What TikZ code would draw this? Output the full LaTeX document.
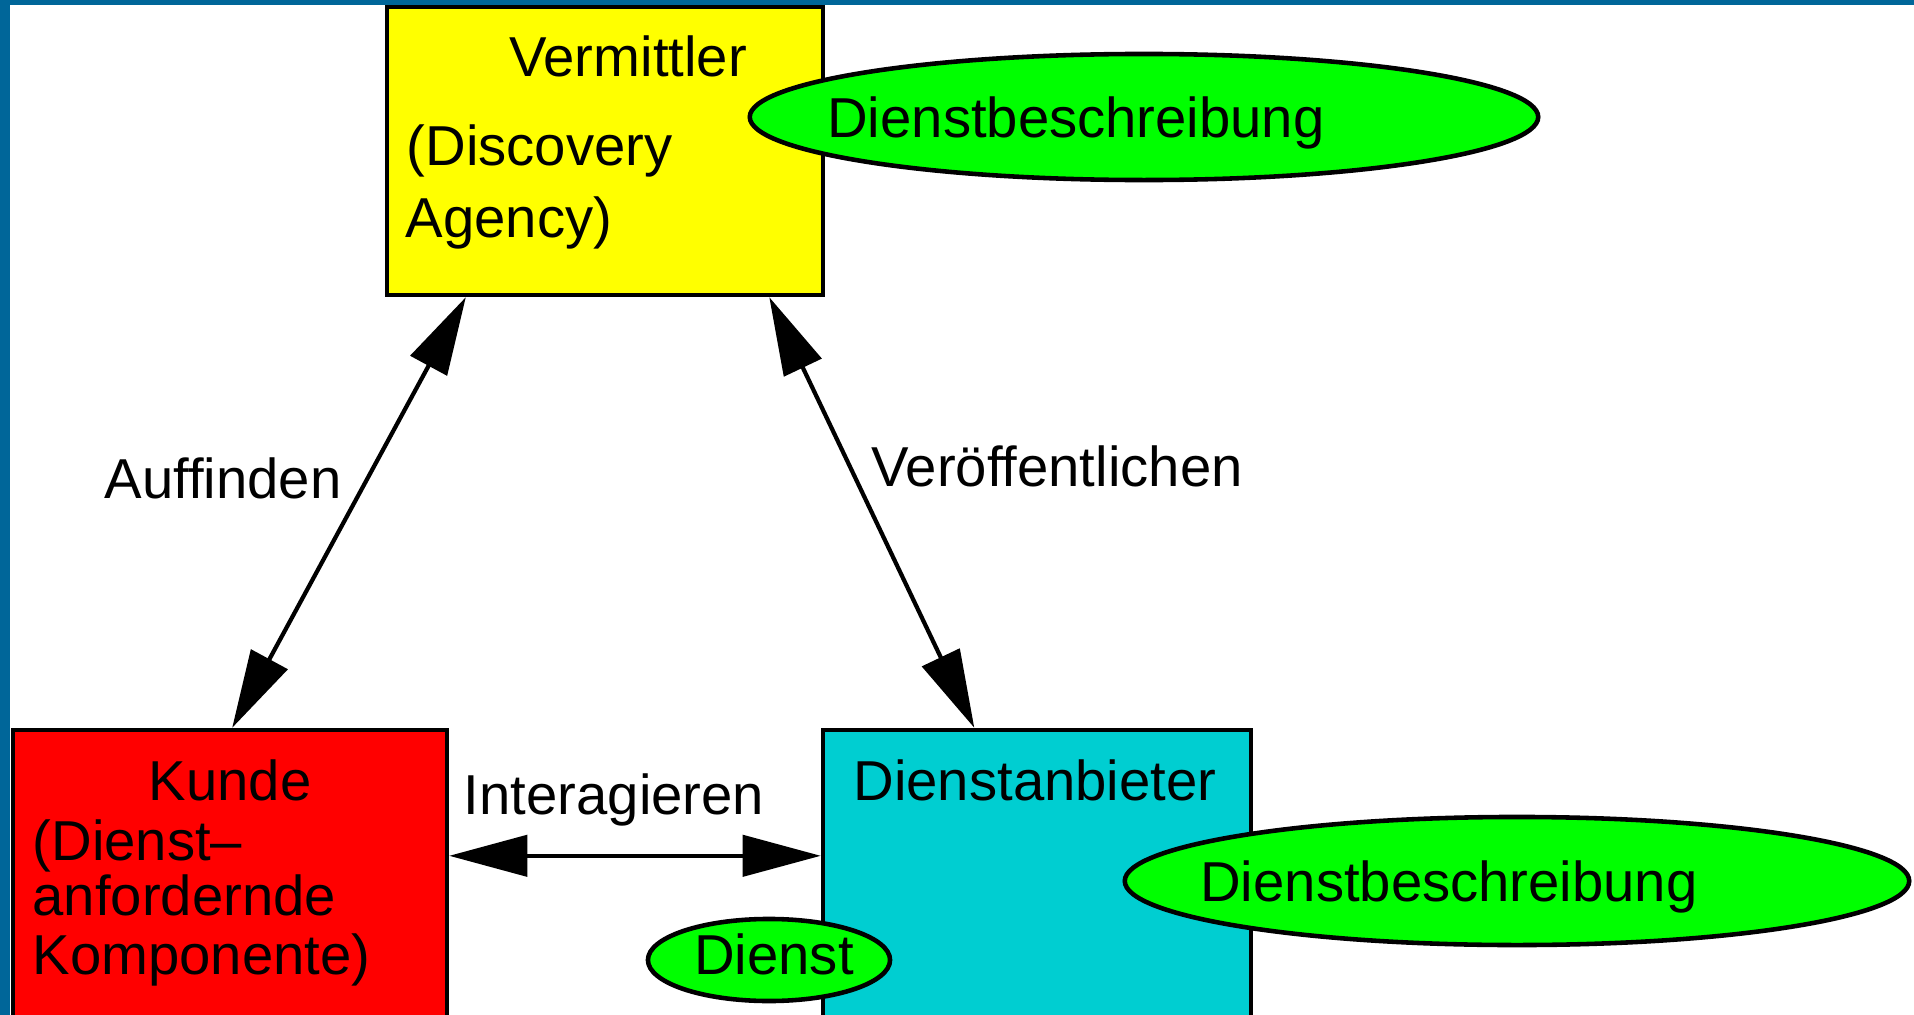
\documentclass[tikz,border=0pt]{standalone}
\usepackage{fontspec}
\setmainfont{Liberation Sans}
\usetikzlibrary{arrows.meta,shapes.geometric,calc}
\definecolor{frameblue}{RGB}{0,102,153}
\definecolor{boxyellow}{RGB}{255,255,0}
\definecolor{boxred}{RGB}{255,0,0}
\definecolor{boxcyan}{RGB}{0,206,209}
\definecolor{ellgreen}{RGB}{0,255,0}
\begin{document}
\begin{tikzpicture}[x=0.01cm,y=-0.01cm,
  every node/.style={font=\fontsize{16}{19}\selectfont},
  box/.style={draw=black,line width=1.2pt,rectangle,inner sep=0pt},
  ell/.style={draw=black,line width=1.3pt,ellipse,fill=ellgreen,inner sep=0pt},
  txt/.style={inner sep=0pt},
  conn/.style={line width=1.2pt,{Triangle[length=0.78cm,width=0.41cm]}-{Triangle[length=0.78cm,width=0.41cm]}}
]
\useasboundingbox (0,0) rectangle (1914,1015);
\clip (0,0) rectangle (1914,1015);
\fill[white] (0,0) rectangle (1914,1015);
\fill[frameblue] (0,0) rectangle (1914,5);
\fill[frameblue] (0,0) rectangle (10,1015);

% boxes
\node[box,fill=boxyellow,minimum width=4.36cm,minimum height=2.88cm] (verm) at (605,151) {};
\node[box,fill=boxred,minimum width=4.34cm,minimum height=3.2cm] (kunde) at (230,890) {};
\node[box,fill=boxcyan,minimum width=4.28cm,minimum height=3.2cm] (anb) at (1037,890) {};

% ellipses
\node[ell,minimum width=7.88cm,minimum height=1.26cm] (db1) at (1144,117) {};
\node[ell,minimum width=7.84cm,minimum height=1.28cm] (db2) at (1517,881) {};
\node[ell,minimum width=2.42cm,minimum height=0.82cm] (dienst) at (769,960) {};

% texts in boxes
\node[txt,anchor=base] (tverm) at (628,77) {Vermittler};
\node[txt,anchor=base west] (tdisc) at (406,165) {(Discovery};
\node[txt,anchor=base west] (tagen) at (405,237) {Agency)};
\node[txt,anchor=base] (tkunde) at (230,800) {Kunde};
\node[txt,anchor=base west] (tdl1) at (32,860) {(Dienst–};
\node[txt,anchor=base west] (tdl2) at (32,915) {anfordernde};
\node[txt,anchor=base west] (tdl3) at (32,974) {Komponente)};
\node[txt,anchor=base] (tanb) at (1035,800) {Dienstanbieter};
\node[txt,anchor=base] (tdb1) at (1076,137) {Dienstbeschreibung};
\node[txt,anchor=base] (tdb2) at (1449,901) {Dienstbeschreibung};
\node[txt,anchor=base] (tdienst) at (774,974) {Dienst};

% connectors
\coordinate (a1) at ($(verm.south west)!0.184!(verm.south east)$);
\coordinate (a2) at ($(kunde.north west)!0.505!(kunde.north east)$);
\coordinate (b1) at ($(verm.south west)!0.873!(verm.south east)$);
\coordinate (b2) at ($(anb.north west)!0.355!(anb.north east)$);
\coordinate (c1) at ($(kunde.north east)+(0,128)$);
\coordinate (c2) at ($(anb.north west)+(0,128)$);
\draw[conn] (a2) -- (a1);
\draw[conn] (b1) -- (b2);
\draw[conn] (c1) -- (c2);

% connector labels
\node[txt,anchor=base] (lauf) at (223,498) {Auffinden};
\node[txt,anchor=base] (lver) at (1057,486) {Veröffentlichen};
\node[txt,anchor=base] (lint) at (614,814) {Interagieren};
\end{tikzpicture}
\end{document}
